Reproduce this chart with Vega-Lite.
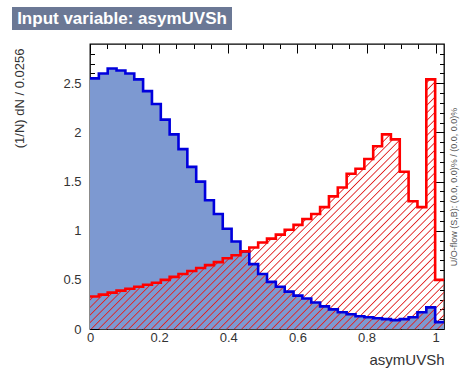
{
  "$schema": "https://vega.github.io/schema/vega-lite/v6.json",
  "padding": {"left": 12, "top": 7, "right": 0, "bottom": 0},
  "spacing": 12,
  "config": {"font": "Liberation Sans"},
  "vconcat": [
    {
      "width": 220,
      "height": 23,
      "view": {"fill": "#6b7895", "stroke": null},
      "data": {"values": [{"t": "Input variable: asymUVSh"}]},
      "mark": {"type": "text", "color": "white", "font": "Liberation Sans", "fontSize": 17, "fontWeight": "bold", "align": "center", "baseline": "middle"},
      "encoding": {"text": {"field": "t", "type": "nominal"}}
    },
    {
      "spacing": 0,
      "data": {"values": [
        {"x": 0.0000, "sig": 2.55, "bkg": 0.33},
        {"x": 0.0256, "sig": 2.60, "bkg": 0.35},
        {"x": 0.0512, "sig": 2.65, "bkg": 0.37},
        {"x": 0.0768, "sig": 2.63, "bkg": 0.39},
        {"x": 0.1024, "sig": 2.60, "bkg": 0.41},
        {"x": 0.1280, "sig": 2.54, "bkg": 0.43},
        {"x": 0.1536, "sig": 2.42, "bkg": 0.45},
        {"x": 0.1792, "sig": 2.29, "bkg": 0.47},
        {"x": 0.2048, "sig": 2.13, "bkg": 0.50},
        {"x": 0.2304, "sig": 1.98, "bkg": 0.53},
        {"x": 0.2560, "sig": 1.83, "bkg": 0.56},
        {"x": 0.2816, "sig": 1.65, "bkg": 0.59},
        {"x": 0.3072, "sig": 1.50, "bkg": 0.62},
        {"x": 0.3328, "sig": 1.31, "bkg": 0.65},
        {"x": 0.3584, "sig": 1.17, "bkg": 0.68},
        {"x": 0.3840, "sig": 1.02, "bkg": 0.72},
        {"x": 0.4096, "sig": 0.89, "bkg": 0.75},
        {"x": 0.4352, "sig": 0.79, "bkg": 0.79},
        {"x": 0.4608, "sig": 0.66, "bkg": 0.83},
        {"x": 0.4864, "sig": 0.56, "bkg": 0.88},
        {"x": 0.5120, "sig": 0.48, "bkg": 0.92},
        {"x": 0.5376, "sig": 0.43, "bkg": 0.96},
        {"x": 0.5632, "sig": 0.38, "bkg": 1.01},
        {"x": 0.5888, "sig": 0.34, "bkg": 1.06},
        {"x": 0.6144, "sig": 0.31, "bkg": 1.12},
        {"x": 0.6400, "sig": 0.27, "bkg": 1.17},
        {"x": 0.6656, "sig": 0.23, "bkg": 1.24},
        {"x": 0.6912, "sig": 0.20, "bkg": 1.35},
        {"x": 0.7168, "sig": 0.17, "bkg": 1.44},
        {"x": 0.7424, "sig": 0.15, "bkg": 1.58},
        {"x": 0.7680, "sig": 0.13, "bkg": 1.63},
        {"x": 0.7936, "sig": 0.12, "bkg": 1.73},
        {"x": 0.8192, "sig": 0.11, "bkg": 1.86},
        {"x": 0.8448, "sig": 0.10, "bkg": 1.98},
        {"x": 0.8704, "sig": 0.09, "bkg": 1.93},
        {"x": 0.8960, "sig": 0.10, "bkg": 1.60},
        {"x": 0.9216, "sig": 0.12, "bkg": 1.30},
        {"x": 0.9472, "sig": 0.17, "bkg": 1.24},
        {"x": 0.9728, "sig": 0.22, "bkg": 2.54},
        {"x": 0.9984, "sig": 0.07, "bkg": 0.50},
        {"x": 1.0240, "sig": 0.07, "bkg": 0.50}
      ]},
      "hconcat": [
        {
          "width": 73,
          "height": 285,
          "view": {"stroke": null},
          "mark": {"type": "point", "opacity": 0},
          "encoding": {
            "y": {"field": "sig", "type": "quantitative",
              "scale": {"domain": [0, 2.9], "nice": false},
              "axis": {
                "orient": "right", "domain": false, "ticks": false, "grid": false,
                "values": [0, 0.5, 1, 1.5, 2, 2.5], "format": ".1~f",
                "labelAlign": "right", "labelPadding": -4,
                "labelOverlap": false, "labelFlush": false, "labelBound": false,
                "labelFont": "Liberation Sans", "labelFontSize": 13, "labelColor": "#333333",
                "title": "(1/N) dN / 0.0256", "titleFont": "Liberation Sans", "titleFontSize": 13, "titleFontWeight": "normal", "titleColor": "#333333",
                "titleAngle": 270, "titleAnchor": "end", "titleAlign": "right", "titleBaseline": "middle", "titleX": -66, "titleY": 4
              }
            }
          }
        },
        {
          "width": 354,
          "height": 285,
          "view": {"stroke": "#000000", "strokeWidth": 1.3},
          "layer": [
            {
              "mark": {"type": "area", "interpolate": "step-after", "fill": "#7d99d1", "clip": true},
              "encoding": {
                "x": {"field": "x", "type": "quantitative",
                  "scale": {"domain": [0, 1.024], "nice": false, "zero": false},
                  "axis": {
                    "orient": "bottom", "domain": false, "grid": false,
                    "values": [0,0.05,0.1,0.15,0.2,0.25,0.3,0.35,0.4,0.45,0.5,0.55,0.6,0.65,0.7,0.75,0.8,0.85,0.9,0.95,1],
                    "tickColor": "#000000", "tickWidth": 1,
                    "tickSize": {"condition": {"test": "indexof([0,0.2,0.4,0.6,0.8,1], datum.value) >= 0", "value": -9}, "value": -4.5},
                    "format": ".2~f",
                    "labelExpr": "indexof([0,0.2,0.4,0.6,0.8,1], datum.value) >= 0 ? datum.label : ''",
                    "labelOverlap": false, "labelFlush": false, "labelBound": false,
                    "labelFont": "Liberation Sans", "labelFontSize": 13, "labelColor": "#333333", "labelPadding": 11,
                    "title": "asymUVSh", "titleFont": "Liberation Sans", "titleFontSize": 15, "titleFontWeight": "normal", "titleColor": "#333333",
                    "titleAnchor": "end", "titlePadding": 4
                  }
                },
                "y": {"field": "sig", "type": "quantitative",
                  "scale": {"domain": [0, 2.9], "nice": false, "zero": true},
                  "axis": {
                    "orient": "left", "domain": false, "grid": false, "labels": false, "title": null,
                    "values": [0,0.1,0.2,0.3,0.4,0.5,0.6,0.7,0.8,0.9,1,1.1,1.2,1.3,1.4,1.5,1.6,1.7,1.8,1.9,2,2.1,2.2,2.3,2.4,2.5,2.6,2.7,2.8],
                    "tickColor": "#000000", "tickWidth": 1,
                    "tickSize": {"condition": {"test": "indexof([0,0.5,1,1.5,2,2.5], datum.value) >= 0", "value": -9}, "value": -4.5}
                  }
                }
              }
            },
            {
              "mark": {"type": "area", "interpolate": "step-after", "clip": true,
                "fill": {"gradient": "linear", "x1": 0, "y1": 0, "x2": 1.14, "y2": 0.8, "stops": [
{"offset":0,"color":"#e0202000"},{"offset":0.002,"color":"#e02020"},{"offset":0.004,"color":"#e0202000"},
{"offset":0.0125,"color":"#e0202000"},{"offset":0.0145,"color":"#e02020"},{"offset":0.0165,"color":"#e0202000"},
{"offset":0.025,"color":"#e0202000"},{"offset":0.027,"color":"#e02020"},{"offset":0.029,"color":"#e0202000"},
{"offset":0.0375,"color":"#e0202000"},{"offset":0.0395,"color":"#e02020"},{"offset":0.0415,"color":"#e0202000"},
{"offset":0.05,"color":"#e0202000"},{"offset":0.052,"color":"#e02020"},{"offset":0.054,"color":"#e0202000"},
{"offset":0.0625,"color":"#e0202000"},{"offset":0.0645,"color":"#e02020"},{"offset":0.0665,"color":"#e0202000"},
{"offset":0.075,"color":"#e0202000"},{"offset":0.077,"color":"#e02020"},{"offset":0.079,"color":"#e0202000"},
{"offset":0.0875,"color":"#e0202000"},{"offset":0.0895,"color":"#e02020"},{"offset":0.0915,"color":"#e0202000"},
{"offset":0.1,"color":"#e0202000"},{"offset":0.102,"color":"#e02020"},{"offset":0.104,"color":"#e0202000"},
{"offset":0.1125,"color":"#e0202000"},{"offset":0.1145,"color":"#e02020"},{"offset":0.1165,"color":"#e0202000"},
{"offset":0.125,"color":"#e0202000"},{"offset":0.127,"color":"#e02020"},{"offset":0.129,"color":"#e0202000"},
{"offset":0.1375,"color":"#e0202000"},{"offset":0.1395,"color":"#e02020"},{"offset":0.1415,"color":"#e0202000"},
{"offset":0.15,"color":"#e0202000"},{"offset":0.152,"color":"#e02020"},{"offset":0.154,"color":"#e0202000"},
{"offset":0.1625,"color":"#e0202000"},{"offset":0.1645,"color":"#e02020"},{"offset":0.1665,"color":"#e0202000"},
{"offset":0.175,"color":"#e0202000"},{"offset":0.177,"color":"#e02020"},{"offset":0.179,"color":"#e0202000"},
{"offset":0.1875,"color":"#e0202000"},{"offset":0.1895,"color":"#e02020"},{"offset":0.1915,"color":"#e0202000"},
{"offset":0.2,"color":"#e0202000"},{"offset":0.202,"color":"#e02020"},{"offset":0.204,"color":"#e0202000"},
{"offset":0.2125,"color":"#e0202000"},{"offset":0.2145,"color":"#e02020"},{"offset":0.2165,"color":"#e0202000"},
{"offset":0.225,"color":"#e0202000"},{"offset":0.227,"color":"#e02020"},{"offset":0.229,"color":"#e0202000"},
{"offset":0.2375,"color":"#e0202000"},{"offset":0.2395,"color":"#e02020"},{"offset":0.2415,"color":"#e0202000"},
{"offset":0.25,"color":"#e0202000"},{"offset":0.252,"color":"#e02020"},{"offset":0.254,"color":"#e0202000"},
{"offset":0.2625,"color":"#e0202000"},{"offset":0.2645,"color":"#e02020"},{"offset":0.2665,"color":"#e0202000"},
{"offset":0.275,"color":"#e0202000"},{"offset":0.277,"color":"#e02020"},{"offset":0.279,"color":"#e0202000"},
{"offset":0.2875,"color":"#e0202000"},{"offset":0.2895,"color":"#e02020"},{"offset":0.2915,"color":"#e0202000"},
{"offset":0.3,"color":"#e0202000"},{"offset":0.302,"color":"#e02020"},{"offset":0.304,"color":"#e0202000"},
{"offset":0.3125,"color":"#e0202000"},{"offset":0.3145,"color":"#e02020"},{"offset":0.3165,"color":"#e0202000"},
{"offset":0.325,"color":"#e0202000"},{"offset":0.327,"color":"#e02020"},{"offset":0.329,"color":"#e0202000"},
{"offset":0.3375,"color":"#e0202000"},{"offset":0.3395,"color":"#e02020"},{"offset":0.3415,"color":"#e0202000"},
{"offset":0.35,"color":"#e0202000"},{"offset":0.352,"color":"#e02020"},{"offset":0.354,"color":"#e0202000"},
{"offset":0.3625,"color":"#e0202000"},{"offset":0.3645,"color":"#e02020"},{"offset":0.3665,"color":"#e0202000"},
{"offset":0.375,"color":"#e0202000"},{"offset":0.377,"color":"#e02020"},{"offset":0.379,"color":"#e0202000"},
{"offset":0.3875,"color":"#e0202000"},{"offset":0.3895,"color":"#e02020"},{"offset":0.3915,"color":"#e0202000"},
{"offset":0.4,"color":"#e0202000"},{"offset":0.402,"color":"#e02020"},{"offset":0.404,"color":"#e0202000"},
{"offset":0.4125,"color":"#e0202000"},{"offset":0.4145,"color":"#e02020"},{"offset":0.4165,"color":"#e0202000"},
{"offset":0.425,"color":"#e0202000"},{"offset":0.427,"color":"#e02020"},{"offset":0.429,"color":"#e0202000"},
{"offset":0.4375,"color":"#e0202000"},{"offset":0.4395,"color":"#e02020"},{"offset":0.4415,"color":"#e0202000"},
{"offset":0.45,"color":"#e0202000"},{"offset":0.452,"color":"#e02020"},{"offset":0.454,"color":"#e0202000"},
{"offset":0.4625,"color":"#e0202000"},{"offset":0.4645,"color":"#e02020"},{"offset":0.4665,"color":"#e0202000"},
{"offset":0.475,"color":"#e0202000"},{"offset":0.477,"color":"#e02020"},{"offset":0.479,"color":"#e0202000"},
{"offset":0.4875,"color":"#e0202000"},{"offset":0.4895,"color":"#e02020"},{"offset":0.4915,"color":"#e0202000"},
{"offset":0.5,"color":"#e0202000"},{"offset":0.502,"color":"#e02020"},{"offset":0.504,"color":"#e0202000"},
{"offset":0.5125,"color":"#e0202000"},{"offset":0.5145,"color":"#e02020"},{"offset":0.5165,"color":"#e0202000"},
{"offset":0.525,"color":"#e0202000"},{"offset":0.527,"color":"#e02020"},{"offset":0.529,"color":"#e0202000"},
{"offset":0.5375,"color":"#e0202000"},{"offset":0.5395,"color":"#e02020"},{"offset":0.5415,"color":"#e0202000"},
{"offset":0.55,"color":"#e0202000"},{"offset":0.552,"color":"#e02020"},{"offset":0.554,"color":"#e0202000"},
{"offset":0.5625,"color":"#e0202000"},{"offset":0.5645,"color":"#e02020"},{"offset":0.5665,"color":"#e0202000"},
{"offset":0.575,"color":"#e0202000"},{"offset":0.577,"color":"#e02020"},{"offset":0.579,"color":"#e0202000"},
{"offset":0.5875,"color":"#e0202000"},{"offset":0.5895,"color":"#e02020"},{"offset":0.5915,"color":"#e0202000"},
{"offset":0.6,"color":"#e0202000"},{"offset":0.602,"color":"#e02020"},{"offset":0.604,"color":"#e0202000"},
{"offset":0.6125,"color":"#e0202000"},{"offset":0.6145,"color":"#e02020"},{"offset":0.6165,"color":"#e0202000"},
{"offset":0.625,"color":"#e0202000"},{"offset":0.627,"color":"#e02020"},{"offset":0.629,"color":"#e0202000"},
{"offset":0.6375,"color":"#e0202000"},{"offset":0.6395,"color":"#e02020"},{"offset":0.6415,"color":"#e0202000"},
{"offset":0.65,"color":"#e0202000"},{"offset":0.652,"color":"#e02020"},{"offset":0.654,"color":"#e0202000"},
{"offset":0.6625,"color":"#e0202000"},{"offset":0.6645,"color":"#e02020"},{"offset":0.6665,"color":"#e0202000"},
{"offset":0.675,"color":"#e0202000"},{"offset":0.677,"color":"#e02020"},{"offset":0.679,"color":"#e0202000"},
{"offset":0.6875,"color":"#e0202000"},{"offset":0.6895,"color":"#e02020"},{"offset":0.6915,"color":"#e0202000"},
{"offset":0.7,"color":"#e0202000"},{"offset":0.702,"color":"#e02020"},{"offset":0.704,"color":"#e0202000"},
{"offset":0.7125,"color":"#e0202000"},{"offset":0.7145,"color":"#e02020"},{"offset":0.7165,"color":"#e0202000"},
{"offset":0.725,"color":"#e0202000"},{"offset":0.727,"color":"#e02020"},{"offset":0.729,"color":"#e0202000"},
{"offset":0.7375,"color":"#e0202000"},{"offset":0.7395,"color":"#e02020"},{"offset":0.7415,"color":"#e0202000"},
{"offset":0.75,"color":"#e0202000"},{"offset":0.752,"color":"#e02020"},{"offset":0.754,"color":"#e0202000"},
{"offset":0.7625,"color":"#e0202000"},{"offset":0.7645,"color":"#e02020"},{"offset":0.7665,"color":"#e0202000"},
{"offset":0.775,"color":"#e0202000"},{"offset":0.777,"color":"#e02020"},{"offset":0.779,"color":"#e0202000"},
{"offset":0.7875,"color":"#e0202000"},{"offset":0.7895,"color":"#e02020"},{"offset":0.7915,"color":"#e0202000"},
{"offset":0.8,"color":"#e0202000"},{"offset":0.802,"color":"#e02020"},{"offset":0.804,"color":"#e0202000"},
{"offset":0.8125,"color":"#e0202000"},{"offset":0.8145,"color":"#e02020"},{"offset":0.8165,"color":"#e0202000"},
{"offset":0.825,"color":"#e0202000"},{"offset":0.827,"color":"#e02020"},{"offset":0.829,"color":"#e0202000"},
{"offset":0.8375,"color":"#e0202000"},{"offset":0.8395,"color":"#e02020"},{"offset":0.8415,"color":"#e0202000"},
{"offset":0.85,"color":"#e0202000"},{"offset":0.852,"color":"#e02020"},{"offset":0.854,"color":"#e0202000"},
{"offset":0.8625,"color":"#e0202000"},{"offset":0.8645,"color":"#e02020"},{"offset":0.8665,"color":"#e0202000"},
{"offset":0.875,"color":"#e0202000"},{"offset":0.877,"color":"#e02020"},{"offset":0.879,"color":"#e0202000"},
{"offset":0.8875,"color":"#e0202000"},{"offset":0.8895,"color":"#e02020"},{"offset":0.8915,"color":"#e0202000"},
{"offset":0.9,"color":"#e0202000"},{"offset":0.902,"color":"#e02020"},{"offset":0.904,"color":"#e0202000"},
{"offset":0.9125,"color":"#e0202000"},{"offset":0.9145,"color":"#e02020"},{"offset":0.9165,"color":"#e0202000"},
{"offset":0.925,"color":"#e0202000"},{"offset":0.927,"color":"#e02020"},{"offset":0.929,"color":"#e0202000"},
{"offset":0.9375,"color":"#e0202000"},{"offset":0.9395,"color":"#e02020"},{"offset":0.9415,"color":"#e0202000"},
{"offset":0.95,"color":"#e0202000"},{"offset":0.952,"color":"#e02020"},{"offset":0.954,"color":"#e0202000"},
{"offset":0.9625,"color":"#e0202000"},{"offset":0.9645,"color":"#e02020"},{"offset":0.9665,"color":"#e0202000"},
{"offset":0.975,"color":"#e0202000"},{"offset":0.977,"color":"#e02020"},{"offset":0.979,"color":"#e0202000"},
{"offset":0.9875,"color":"#e0202000"},{"offset":0.9895,"color":"#e02020"},{"offset":0.9915,"color":"#e0202000"},
{"offset":1,"color":"#e0202000"}
                ]}
              },
              "encoding": {
                "x": {"field": "x", "type": "quantitative",
                  "axis": {
                    "orient": "top", "domain": false, "grid": false, "labels": false, "title": null,
                    "values": [0,0.05,0.1,0.15,0.2,0.25,0.3,0.35,0.4,0.45,0.5,0.55,0.6,0.65,0.7,0.75,0.8,0.85,0.9,0.95,1],
                    "tickColor": "#000000", "tickWidth": 1,
                    "tickSize": {"condition": {"test": "indexof([0,0.2,0.4,0.6,0.8,1], datum.value) >= 0", "value": -9}, "value": -4.5}
                  }
                },
                "y": {"field": "bkg", "type": "quantitative",
                  "axis": {
                    "orient": "right", "domain": false, "grid": false, "labels": false,
                    "values": [0,0.1,0.2,0.3,0.4,0.5,0.6,0.7,0.8,0.9,1,1.1,1.2,1.3,1.4,1.5,1.6,1.7,1.8,1.9,2,2.1,2.2,2.3,2.4,2.5,2.6,2.7,2.8],
                    "tickColor": "#000000", "tickWidth": 1,
                    "tickSize": {"condition": {"test": "indexof([0,0.5,1,1.5,2,2.5], datum.value) >= 0", "value": -9}, "value": -4.5},
                    "title": "U/O-flow (S,B): (0.0, 0.0)% / (0.0, 0.0)%",
                    "titleFont": "Liberation Sans", "titleFontSize": 9, "titleFontWeight": "normal", "titleColor": "#555555",
                    "titleAngle": 270, "titleAnchor": "middle", "titlePadding": 14
                  }
                }
              }
            },
            {
              "mark": {"type": "line", "interpolate": "step-after", "color": "#0000dd", "strokeWidth": 2.6, "clip": true},
              "encoding": {
                "x": {"field": "x", "type": "quantitative", "axis": null},
                "y": {"field": "sig", "type": "quantitative", "axis": null}
              }
            },
            {
              "mark": {"type": "line", "interpolate": "step-after", "color": "#ff0000", "strokeWidth": 2.6, "clip": true},
              "encoding": {
                "x": {"field": "x", "type": "quantitative", "axis": null},
                "y": {"field": "bkg", "type": "quantitative", "axis": null}
              }
            }
          ],
          "resolve": {"axis": {"x": "independent", "y": "independent"}}
        }
      ]
    }
  ]
}
